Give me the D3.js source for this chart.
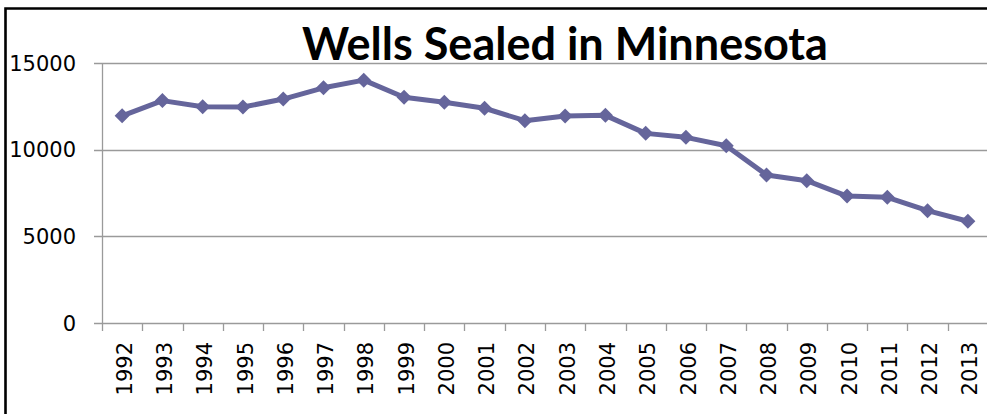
<!DOCTYPE html>
<html>
<head>
<meta charset="utf-8">
<script src="https://cdnjs.cloudflare.com/ajax/libs/d3/7.8.5/d3.min.js"></script>
<style>
  html, body { margin: 0; background: #fff; overflow: hidden; }
  svg { display: block; overflow: hidden; }
  .tick-label { font-family: "DejaVu Sans", sans-serif; font-size: 21px; fill: #000; }
  .title { font-family: Lato, "Open Sans", sans-serif; font-weight: bold; fill: #000; }
</style>
</head>
<body>
<div id="chart"></div>
<script>
var years = ["1992", "1993", "1994", "1995", "1996", "1997", "1998", "1999", "2000", "2001", "2002",
  "2003", "2004", "2005", "2006", "2007", "2008", "2009", "2010", "2011", "2012", "2013"];
var wells_sealed = [11950, 12830, 12480, 12460, 12920, 13570, 14010, 13020, 12730, 12390, 11670,
  11940, 11980, 10940, 10710, 10230, 8540, 8210, 7320, 7250, 6480, 5870];
var y_ticks = [0, 5000, 10000, 15000];

var w = 987, h = 414;
var plot_left = 102, plot_right = 988, plot_top = 63, plot_bottom = 323;
var line_color = "#65659b", grid_color = "#9a9a9a";

var svg = d3.select("#chart").append("svg")
    .attr("width", w)
    .attr("height", h);

var x = d3.scaleBand()
    .domain(years)
    .range([plot_left, plot_right]);

var y = d3.scaleLinear()
    .domain([0, 15000])
    .range([plot_bottom, plot_top]);

// outer frame: only the left and top edges fall inside the picture
svg.append("path")
    .attr("d", "M5.5," + (h + 10) + "V8.5H" + (w + 10))
    .attr("fill", "none")
    .attr("stroke", "#000")
    .attr("stroke-width", 2.6);

// gridlines
svg.selectAll(".grid")
    .data(y_ticks)
  .enter().append("line")
    .attr("class", "grid")
    .attr("x1", plot_left - 8)
    .attr("x2", plot_right)
    .attr("y1", function(d){ return Math.round(y(d)) + 0.5; })
    .attr("y2", function(d){ return Math.round(y(d)) + 0.5; })
    .attr("stroke", grid_color)
    .attr("stroke-width", 1.3);

// y axis line
svg.append("line")
    .attr("x1", plot_left + 0.5)
    .attr("x2", plot_left + 0.5)
    .attr("y1", plot_top)
    .attr("y2", plot_bottom + 8)
    .attr("stroke", grid_color)
    .attr("stroke-width", 1.3);

// x tick marks
svg.selectAll(".xtick")
    .data(years.slice(1))
  .enter().append("line")
    .attr("class", "xtick")
    .attr("x1", function(d){ return Math.round(x(d)) + 0.5; })
    .attr("x2", function(d){ return Math.round(x(d)) + 0.5; })
    .attr("y1", plot_bottom)
    .attr("y2", plot_bottom + 8)
    .attr("stroke", grid_color)
    .attr("stroke-width", 1.3);

// y labels
svg.selectAll(".ylab")
    .data(y_ticks)
  .enter().append("text")
    .attr("class", "tick-label")
    .attr("x", 76)
    .attr("y", function(d){ return y(d); })
    .attr("dy", "0.36em")
    .attr("text-anchor", "end")
    .text(function(d){ return d; });

// x labels, rotated
svg.selectAll(".xlab")
    .data(years)
  .enter().append("text")
    .attr("class", "tick-label")
    .attr("transform", function(d){
      return "translate(" + (x(d) + x.bandwidth() / 2 + 2) + "," + 342 + ") rotate(-90)";
    })
    .attr("dy", "0.36em")
    .attr("text-anchor", "end")
    .text(function(d){ return d; });

var pts = years.map(function(d, i){ return [x(d) + x.bandwidth() / 2, y(wells_sealed[i])]; });

// the line
svg.append("path")
    .attr("d", d3.line()(pts))
    .attr("fill", "none")
    .attr("stroke", line_color)
    .attr("stroke-width", 5)
    .attr("stroke-linejoin", "round");

// diamond markers
svg.selectAll(".marker")
    .data(pts)
  .enter().append("path")
    .attr("class", "marker")
    .attr("d", function(p){
      var r = 7.5;
      return "M" + p[0] + "," + (p[1] - r) + "L" + (p[0] + r) + "," + p[1] +
        "L" + p[0] + "," + (p[1] + r) + "L" + (p[0] - r) + "," + p[1] + "Z";
    })
    .attr("fill", line_color);

// title, scaled to span the same width as the reference
var title = svg.append("text")
    .attr("class", "title")
    .attr("x", 565)
    .attr("y", 60)
    .attr("text-anchor", "middle")
    .style("font-size", "40px")
    .text("Wells Sealed in Minnesota");

var tw = title.node().getComputedTextLength();
title.style("font-size", (40 * 526 / tw) + "px");
</script>
</body>
</html>
